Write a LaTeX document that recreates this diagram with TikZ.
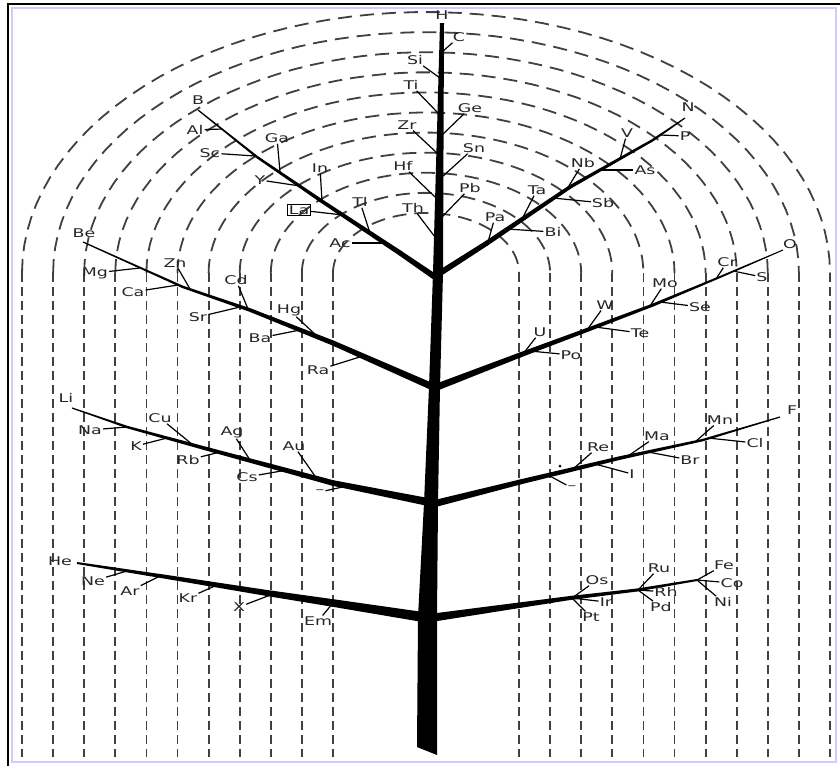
\documentclass[tikz,border=0pt]{standalone}
\usepackage{fontspec}
\usetikzlibrary{calc}
\newfontfamily\elfont[FakeStretch=1.45]{DejaVu Sans}
% tapered limb segment between two named points
\newcommand{\limb}[4]{%
  \fill (#1) circle (#3);
  \fill ($(#1)!#3!90:(#2)$) -- ($(#2)!#4!-90:(#1)$) -- ($(#2)!#4!90:(#1)$) -- ($(#1)!#3!-90:(#2)$) -- cycle;}

\begin{document}
\begin{tikzpicture}[x=1pt, y=-1pt,
  elem/.style={font=\elfont\fontsize{12}{13}\selectfont, inner sep=1pt, text=black!85},
  twig/.style={line width=1.2pt},
  ring/.style={line width=1.8pt, black!75, dash pattern=on 14pt off 8pt},
  leg/.style={line width=1.8pt, black!75, dash pattern=on 9pt off 5pt}
]
  \useasboundingbox (0,0) rectangle (840,766);
  \fill[white] (0,0) rectangle (840,766);

  % frame
  \draw[blue!20, line width=1.5pt] (12,762) -- (12,8) -- (836,8) -- (836,762) -- cycle;
  \draw[black, line width=1.5pt] (8,766) -- (8,4) -- (840,4);

  % dashed shells
  \foreach \i in {0,...,10} {
    \pgfmathsetmacro\ra{93+31.1*\i}
    \pgfmathsetmacro\rb{0.646*\ra}
    \draw[ring] plot[domain=180:360, samples=60] ({426+\ra*cos(\x)}, {273+\rb*sin(\x)});
    \draw[leg] (426-\ra,273) -- (426-\ra,757);
    \draw[leg] (426+\ra,273) -- (426+\ra,757);
  }

  % trunk
  \fill (440,23) -- (444,23) -- (443,273) -- (440,387) -- (438,503) -- (437,617)
    -- (437,755) -- (417,747) -- (418,617) -- (424,503) -- (429,387) -- (433,273) -- cycle;

  % limbs
  \coordinate (g3p0) at (435,277); \coordinate (g3p1) at (400,253);
  \coordinate (g3p2) at (320,200); \coordinate (g3p3) at (257,157);
  \coordinate (g3p4) at (198,110);
  \limb{g3p0}{g3p1}{3pt}{2.5pt} \limb{g3p1}{g3p2}{2.5pt}{1.8pt}
  \limb{g3p2}{g3p3}{1.8pt}{1.2pt} \limb{g3p3}{g3p4}{1.2pt}{0.6pt}

  \coordinate (g5p0) at (437,275); \coordinate (g5p1) at (487,243);
  \coordinate (g5p2) at (570,187); \coordinate (g5p3) at (653,140);
  \coordinate (g5p4) at (685,118);
  \limb{g5p0}{g5p1}{3pt}{2.5pt} \limb{g5p1}{g5p2}{2.5pt}{1.8pt}
  \limb{g5p2}{g5p3}{1.8pt}{1.2pt} \limb{g5p3}{g5p4}{1.2pt}{0.6pt}

  \coordinate (g2p0) at (433,387); \coordinate (g2p1) at (333,343);
  \coordinate (g2p2) at (250,310); \coordinate (g2p3) at (183,287);
  \coordinate (g2p4) at (83,242);
  \limb{g2p0}{g2p1}{3.5pt}{2.5pt} \limb{g2p1}{g2p2}{2.5pt}{1.8pt}
  \limb{g2p2}{g2p3}{1.8pt}{1.2pt} \limb{g2p3}{g2p4}{1.2pt}{0.6pt}

  \coordinate (g6p0) at (437,387); \coordinate (g6p1) at (520,355);
  \coordinate (g6p2) at (587,330); \coordinate (g6p3) at (653,305);
  \coordinate (g6p4) at (720,277); \coordinate (g6p5) at (783,250);
  \limb{g6p0}{g6p1}{3.5pt}{2.5pt} \limb{g6p1}{g6p2}{2.5pt}{2pt}
  \limb{g6p2}{g6p3}{2pt}{1.5pt} \limb{g6p3}{g6p4}{1.5pt}{1pt}
  \limb{g6p4}{g6p5}{1pt}{0.5pt}

  \coordinate (g1p0) at (433,503); \coordinate (g1p1) at (333,483);
  \coordinate (g1p2) at (200,447); \coordinate (g1p3) at (127,427);
  \coordinate (g1p4) at (72,408);
  \limb{g1p0}{g1p1}{4pt}{2.8pt} \limb{g1p1}{g1p2}{2.8pt}{1.8pt}
  \limb{g1p2}{g1p3}{1.8pt}{1.2pt} \limb{g1p3}{g1p4}{1.2pt}{0.6pt}

  \coordinate (g7p0) at (437,503); \coordinate (g7p1) at (520,482);
  \coordinate (g7p2) at (620,458); \coordinate (g7p3) at (703,440);
  \coordinate (g7p4) at (780,417);
  \limb{g7p0}{g7p1}{3.5pt}{2.5pt} \limb{g7p1}{g7p2}{2.5pt}{1.8pt}
  \limb{g7p2}{g7p3}{1.8pt}{1.2pt} \limb{g7p3}{g7p4}{1.2pt}{0.6pt}

  \coordinate (g0p0) at (423,617); \coordinate (g0p1) at (333,603);
  \coordinate (g0p2) at (267,593); \coordinate (g0p3) at (167,577);
  \coordinate (g0p4) at (77,563);
  \limb{g0p0}{g0p1}{5pt}{3.8pt} \limb{g0p1}{g0p2}{3.8pt}{3pt}
  \limb{g0p2}{g0p3}{3pt}{2pt} \limb{g0p3}{g0p4}{2pt}{1pt}

  \coordinate (g8p0) at (437,617); \coordinate (g8p1) at (570,598);
  \coordinate (g8p2) at (637,590); \coordinate (g8p3) at (697,580);
  \limb{g8p0}{g8p1}{4pt}{2pt} \limb{g8p1}{g8p2}{2pt}{1.5pt}
  \limb{g8p2}{g8p3}{1.5pt}{1pt}

  % limb tips
  \node[elem] (H)  at (442,15)  {H};
  \node[elem] (B)  at (198,100) {B};
  \node[elem] (N)  at (688,107) {N};
  \node[elem] (Be) at (84,233)  {Be};
  \node[elem] (O)  at (790,244) {O};
  \node[elem] (Li) at (66,398)  {Li};
  \node[elem] (F)  at (792,410) {F};
  \node[elem] (He) at (60,561)  {He};

  % elements on twigs: name / label x / label y / twig x / twig y
  \foreach \n/\lx/\ly/\ax/\ay in {
      C/459/37/442/52, Si/415/60/440/78, Ti/411/85/438/113, Ge/470/108/440/137,
      Zr/407/125/437/153, Sn/474/148/442/177, Hf/403/166/435/197, Pb/470/188/442/217,
      Th/413/208/435/237,
      Al/195/130/222/129, Sc/210/153/255/156, Ga/277/138/280/172, Y/260/180/300/186,
      In/320/168/322/201, Tl/360/202/370/233, Ac/340/243/385/243,
      P/685/136/660/135, V/627/133/620/159, As/645/170/600/170, Nb/583/163/567/189,
      Sb/603/203/553/198, Ta/537/190/522/219, Bi/553/232/507/229, Pa/495/217/488/242,
      Mg/95/273/140/268, Zn/175/263/190/289, Ca/133/292/178/285, Cd/236/280/248/309,
      Sr/198/317/240/307, Hg/289/310/318/337, Ba/260/338/300/330, Ra/318/370/363/356,
      Cr/727/262/716/279, S/762/277/733/271, Mo/665/283/650/306, Se/700/307/660/302,
      W/605/305/587/330, Te/640/333/595/327, U/540/332/523/354, Po/571/355/530/351,
      Na/90/430/127/427, Cu/160/418/193/445, K/136/446/167/438, Ag/232/432/250/460,
      Rb/188/460/220/452, Au/294/446/317/479, Cs/247/477/287/470,
      Mn/720/420/695/442, Cl/755/443/708/438, Ma/657/436/628/456, Br/690/460/648/452,
      Re/598/447/573/469, I/632/474/595/464,
      Ne/93/581/127/571, Ar/130/591/160/576, Kr/188/598/217/585, X/239/607/273/594,
      Em/318/621/333/603,
      Os/597/580/572/598, Ir/606/602/572/598, Pt/591/617/572/598,
      Ru/659/568/638/590, Rh/666/592/638/590, Pd/661/607/638/590,
      Fe/724/565/697/580, Co/732/583/697/580, Ni/723/602/697/580} {
    \node[elem] (\n) at (\lx,\ly) {\n};
    \coordinate (at\n) at (\ax,\ay);
    \draw[twig] (at\n) -- (\n);
  }

  \node[elem, draw, line width=0.8pt] (La) at (299,210) {La};
  \coordinate (atLa) at (343,215);
  \draw[twig] (atLa) -- (La);

  \node[elem] (gap1) at (320,492) {–};
  \coordinate (atgap1) at (347,486);
  \draw[twig] (atgap1) -- (gap1);

  \node[elem] (gap2) at (572,488) {–};
  \coordinate (atgap2) at (548,475);
  \draw[twig] (atgap2) -- (gap2);

  \fill (560,466) circle (1.5pt);
\end{tikzpicture}
\end{document}
